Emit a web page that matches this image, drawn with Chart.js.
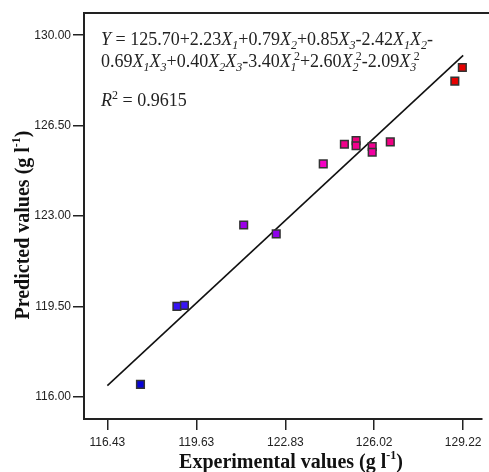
<!DOCTYPE html>
<html>
<head>
<meta charset="utf-8">
<script src="https://cdn.jsdelivr.net/npm/chart.js@4.4.1/dist/chart.umd.min.js"></script>
<style>
  html, body { margin: 0; padding: 0; background: #fff; }
  canvas { display: block; }
</style>
</head>
<body>
<canvas id="chart" width="489" height="472"></canvas>
<script>
// data
const experimental = [117.62, 118.93, 119.20, 121.33, 122.50, 124.19, 124.95, 125.37, 125.37, 125.95, 125.95, 126.60, 128.92, 129.19];
const predicted    = [116.48, 119.50, 119.54, 122.65, 122.31, 125.02, 125.78, 125.92, 125.72, 125.69, 125.47, 125.87, 128.22, 128.75];
const fitLineX = [116.43, 129.22];
const fitLineY = [116.43, 129.22];
const xTicks = [116.43, 119.63, 122.83, 126.02, 129.22];
const yTicks = [116.00, 119.50, 123.00, 126.50, 130.00];
const equationLines = [
  'Y = 125.70+2.23X1+0.79X2+0.85X3-2.42X1X2-',
  '0.69X1X3+0.40X2X3-3.40X1^2+2.60X2^2-2.09X3^2'
];
const r2Text = 'R^2 = 0.9615';

// colour by predicted value (blue -> purple -> magenta -> red)
const colorStops = [
  [0.00, [0, 0, 210]],
  [0.27, [55, 20, 245]],
  [0.50, [150, 0, 235]],
  [0.69, [245, 0, 200]],
  [0.76, [240, 0, 130]],
  [0.93, [230, 0, 0]],
  [1.00, [230, 0, 0]]
];
function pointColor(v) {
  const t = Math.max(0, Math.min(1, (v - 116) / 13));
  for (let i = 1; i < colorStops.length; i++) {
    const [t1, c1] = colorStops[i];
    const [t0, c0] = colorStops[i - 1];
    if (t <= t1) {
      const f = (t - t0) / (t1 - t0 || 1);
      const c = c0.map((a, k) => Math.round(a + (c1[k] - a) * f));
      return `rgb(${c[0]},${c[1]},${c[2]})`;
    }
  }
  return 'rgb(230,0,0)';
}

const SERIF = '"Liberation Serif", "Times New Roman", serif';
const SANS = '"Liberation Sans", Arial, sans-serif';

// tiny rich-text renderer: italic X/Y/R, digit after X -> subscript, ^c -> superscript
function drawRich(ctx, text, x, y, size) {
  const small = Math.round(size * 0.66);
  let cx = x, prevX = false, subStart = null, subW = 0;
  for (let i = 0; i < text.length; i++) {
    const ch = text[i];
    if (ch === '^') {
      const s = text[++i];
      ctx.font = `${small}px ${SERIF}`;
      const w = ctx.measureText(s).width;
      const sx = subStart !== null ? subStart + subW * 0.55 : cx;
      ctx.fillText(s, sx, y - size * 0.38);
      cx = Math.max(cx, sx + w);
      subStart = null; prevX = false;
      continue;
    }
    if (prevX && /[0-9]/.test(ch)) {
      ctx.font = `italic ${small}px ${SERIF}`;
      const w = ctx.measureText(ch).width;
      ctx.fillText(ch, cx, y + size * 0.22);
      subStart = cx; subW = w;
      cx += w; prevX = false;
      continue;
    }
    subStart = null;
    const italic = /[XYR]/.test(ch);
    ctx.font = `${italic ? 'italic ' : ''}${size}px ${SERIF}`;
    ctx.fillText(ch, cx, y);
    cx += ctx.measureText(ch).width;
    prevX = ch === 'X';
  }
}

function drawUnitTitle(ctx, label, cx, cy, size) {
  ctx.font = `bold ${size}px ${SERIF}`;
  const small = Math.round(size * 0.62);
  const a = label + ' (g l';
  const wA = ctx.measureText(a).width;
  ctx.font = `bold ${small}px ${SERIF}`;
  const wS = ctx.measureText('-1').width;
  ctx.font = `bold ${size}px ${SERIF}`;
  const wB = ctx.measureText(')').width;
  let x = cx - (wA + wS + wB) / 2;
  ctx.textAlign = 'left';
  ctx.textBaseline = 'alphabetic';
  ctx.fillText(a, x, cy + size * 0.33);
  x += wA;
  ctx.font = `bold ${small}px ${SERIF}`;
  ctx.fillText('-1', x, cy - size * 0.12);
  x += wS;
  ctx.font = `bold ${size}px ${SERIF}`;
  ctx.fillText(')', x, cy + size * 0.33);
}

const decorPlugin = {
  id: 'decor',
  afterDraw(chart) {
    const ctx = chart.ctx;
    const area = chart.chartArea;
    ctx.save();
    // top frame line
    ctx.strokeStyle = '#222';
    ctx.lineWidth = 2;
    ctx.beginPath();
    ctx.moveTo(area.left, area.top);
    ctx.lineTo(chart.width, area.top);
    ctx.stroke();

    ctx.fillStyle = '#222';
    ctx.textBaseline = 'alphabetic';
    ctx.textAlign = 'left';
    drawRich(ctx, equationLines[0], 101, 45, 18);
    drawRich(ctx, equationLines[1], 101, 67, 18);
    drawRich(ctx, r2Text, 101, 106, 18);

    ctx.fillStyle = '#111';
    drawUnitTitle(ctx, 'Experimental values', 291, 461, 20);
    ctx.translate(22, 225);
    ctx.rotate(-Math.PI / 2);
    drawUnitTitle(ctx, 'Predicted values', 0, 0, 20);
    ctx.restore();
  }
};

const points = experimental.map((x, i) => ({ x, y: predicted[i] }));
const linePoints = fitLineX.map((x, i) => ({ x, y: fitLineY[i] }));

new Chart(document.getElementById('chart'), {
  type: 'scatter',
  data: {
    datasets: [
      {
        type: 'line',
        data: linePoints,
        borderColor: '#111',
        borderWidth: 1.6,
        pointRadius: 0,
        fill: false,
        order: 2
      },
      {
        data: points,
        pointStyle: 'rect',
        pointRadius: 5.4,
        pointBackgroundColor: predicted.map(pointColor),
        pointBorderColor: '#333',
        pointBorderWidth: 1.5,
        order: 1
      }
    ]
  },
  options: {
    responsive: false,
    devicePixelRatio: 1,
    animation: false,
    events: [],
    layout: { padding: { top: 13, right: 1, left: 0, bottom: 0 } },
    plugins: { legend: { display: false }, tooltip: { enabled: false } },
    scales: {
      x: {
        type: 'linear',
        min: 115.59,
        max: 129.90,
        afterBuildTicks(scale) { scale.ticks = xTicks.map(v => ({ value: v })); },
        afterFit(scale) { scale.height = 53; },
        ticks: {
          callback: v => v.toFixed(2),
          font: { family: SANS, size: 12 },
          color: '#222',
          padding: 5,
          maxRotation: 0,
          autoSkip: false
        },
        grid: { drawOnChartArea: false, drawTicks: true, tickLength: 11, color: '#222', lineWidth: 1.5 },
        border: { display: true, color: '#222', width: 2 }
      },
      y: {
        type: 'linear',
        min: 115.14,
        max: 130.86,
        afterBuildTicks(scale) { scale.ticks = yTicks.map(v => ({ value: v })); },
        afterFit(scale) { scale.width = 84; },
        ticks: {
          callback: v => v.toFixed(2),
          font: { family: SANS, size: 12 },
          color: '#222',
          padding: 2,
          autoSkip: false
        },
        grid: { drawOnChartArea: false, drawTicks: true, tickLength: 11, color: '#222', lineWidth: 1.5 },
        border: { display: true, color: '#222', width: 2 }
      }
    }
  },
  plugins: [decorPlugin]
});
</script>
</body>
</html>
